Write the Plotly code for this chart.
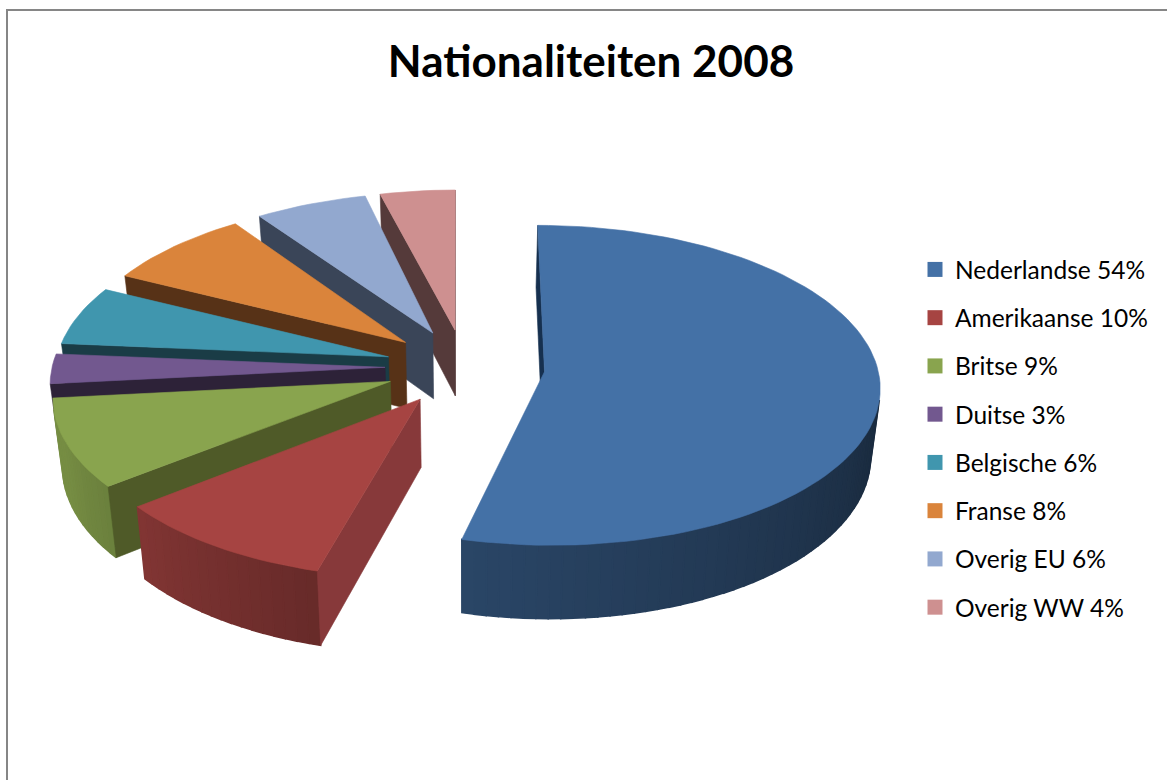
import numpy as np
import plotly.graph_objects as go

# data
nationalities = ['Nederlandse', 'Amerikaanse', 'Britse', 'Duitse', 'Belgische', 'Franse', 'Overig EU', 'Overig WW']
shares = [54, 10, 9, 3, 6, 8, 6, 4]

# colours per slice: top face, cut walls
top_colors = ['#4471a6', '#a64442', '#89a44e', '#72588f', '#4096ae', '#da843b', '#92a8cf', '#ce9090']
wall_colors = ['#16304f', '#87393a', '#4f5a28', '#2d2238', '#1a3c46', '#573217', '#3a4558', '#553a3a']

# view settings for the fake 3d projection (pixels)
CX, CY = 465, 367
RX, RY = 333, 158
PERSP = 0.085
DEPTH = 67
EXPLODE = 0.24
START_ANGLE = -0.2
LOW_SHRINK = 0.977
# small per slice angle nudges, the original projection is not a clean one
slice_nudge = [0.1, 1.3, 1.5, 1.5, 1.5, 1.7, 1.2, 0.1]


def project(x, y, down=False):
    s = 1 / (1 - PERSP * y)
    if down:
        return CX + RX * x * s * LOW_SHRINK, CY + RY * y * s + DEPTH * s
    return CX + RX * x * s, CY + RY * y * s


def rim(theta, ox, oy, down=False):
    t = np.radians(theta)
    return project(ox + np.sin(t), oy - np.cos(t), down)


def area(pts):
    xs, ys = zip(*pts)
    return 0.5 * sum(xs[i] * ys[(i + 1) % len(xs)] - xs[(i + 1) % len(xs)] * ys[i] for i in range(len(xs)))


def poly(fig, pts, color, width=0.6):
    xs, ys = zip(*pts)
    fig.add_trace(go.Scatter(
        x=list(xs) + [xs[0]], y=list(ys) + [ys[0]],
        mode='lines', fill='toself', fillcolor=color,
        line=dict(color=color, width=width),
        hoverinfo='skip', showlegend=False
    ))


def shade(hex_color, factor):
    r, g, b = (int(hex_color[i:i + 2], 16) for i in (1, 3, 5))
    return f'rgb({r * factor:.0f},{g * factor:.0f},{b * factor:.0f})'


fig = go.Figure()

edges = START_ANGLE + 3.6 * np.concatenate([[0], np.cumsum(shares)])
slices = []
for i in range(len(shares)):
    mid = np.radians((edges[i] + edges[i + 1]) / 2 + slice_nudge[i])
    slices.append((i, EXPLODE * np.sin(mid), -EXPLODE * np.cos(mid)))

# back to front
for i, ox, oy in sorted(slices, key=lambda s: s[2]):
    a0, a1 = edges[i] + slice_nudge[i], edges[i + 1] + slice_nudge[i]
    thetas = np.linspace(a0, a1, max(int((a1 - a0) / 2), 2) + 1)

    # outer rim, lighter towards the left
    for t0, t1 in zip(thetas[:-1], thetas[1:]):
        quad = [rim(t0, ox, oy), rim(t1, ox, oy), rim(t1, ox, oy, True), rim(t0, ox, oy, True)]
        if area(quad) < 0:
            f = np.interp((t0 + t1) / 2, [100, 195, 250], [0.37, 0.62, 0.86])
            poly(fig, quad, shade(top_colors[i], f), width=1.5)

    # cut walls
    apex = project(ox, oy)
    apex_low = project(ox, oy, True)
    start_wall = [apex, rim(a0, ox, oy), rim(a0, ox, oy, True), apex_low]
    end_wall = [rim(a1, ox, oy), apex, apex_low, rim(a1, ox, oy, True)]
    for wall in (start_wall, end_wall):
        if area(wall) < 0:
            poly(fig, wall, wall_colors[i])

    # top face
    poly(fig, [apex] + [rim(t, ox, oy) for t in thetas], top_colors[i])

# legend entries
for name, share, color in zip(nationalities, shares, top_colors):
    fig.add_trace(go.Scatter(
        x=[None], y=[None], mode='markers', name=f'{name} {share}%',
        legendgroup=name,
        marker=dict(symbol='square', size=15, color=color)
    ))

fig.add_shape(type='rect', x0=7, y0=10, x1=1300, y1=900,
              line=dict(color='#868686', width=2), fillcolor='rgba(0,0,0,0)', layer='below')

fig.update_layout(
    width=1167, height=780,
    margin=dict(l=0, r=0, t=0, b=0),
    paper_bgcolor='white', plot_bgcolor='white',
    font=dict(family='Lato', color='black'),
    title=dict(text='<b>Nationaliteiten 2008</b>', x=591 / 1167, xanchor='center',
               y=1 - 62 / 780, yanchor='middle', font=dict(family='Lato', size=44, color='black')),
    xaxis=dict(range=[0, 1167], visible=False, fixedrange=True),
    yaxis=dict(range=[780, 0], visible=False, fixedrange=True),
    legend=dict(x=915 / 1167, xanchor='left', y=1 - 247 / 780, yanchor='top',
                font=dict(size=24.5, color='black'), tracegroupgap=13.4,
                itemwidth=30, bgcolor='rgba(0,0,0,0)'),
)

# page has a default body margin, drop it so the figure fills the window
fig.write_html("out.html", config=dict(displayModeBar=False),
               post_script="document.body.style.margin='0';document.body.style.overflow='hidden';")
